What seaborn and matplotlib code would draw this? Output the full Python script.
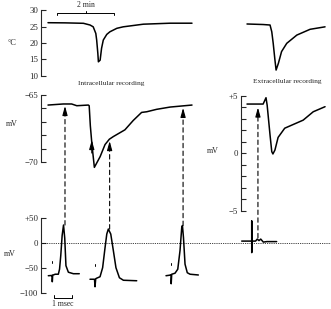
import numpy as np
import pandas as pd
import matplotlib
matplotlib.use("Agg")
import matplotlib.pyplot as plt
import seaborn as sns
from matplotlib.patches import ConnectionPatch
from matplotlib.transforms import blended_transform_factory

# ---------------- data ----------------
# Temperature, intracellular run (time in min, deg C)
temp_in_t = [0.0, 0.6, 1.23, 1.46, 1.57, 1.66, 1.69, 1.73, 1.75, 1.81, 1.86, 1.92,
             2.04, 2.15, 2.39, 2.61, 3.31, 4.24, 5.0]
temp_in_v = [26.15, 26.1, 25.97, 25.45, 24.9, 22.9, 20.9, 16.9, 14.3, 14.8, 18.4, 20.9,
             22.6, 23.4, 24.45, 24.9, 25.7, 26.0, 26.0]

# Temperature, extracellular run
temp_ex_t = [0.0, 0.56, 0.80, 0.86, 0.91, 0.97, 1.01, 1.09, 1.2, 1.38, 1.73, 2.19, 2.71]
temp_ex_v = [25.76, 25.6, 25.45, 23.4, 19.9, 14.85, 11.8, 13.85, 17.4, 19.9, 22.4, 24.15, 24.9]

# Membrane potential, intracellular (mV)
vm_in_t = [0.0, 0.53, 0.82, 1.0, 1.4, 1.43, 1.47, 1.53, 1.61, 1.81, 1.98, 2.13, 2.27,
           2.67, 2.96, 3.25, 3.43, 3.77, 4.24, 5.0]
vm_in_v = [-65.75, -65.67, -65.67, -65.8, -65.75, -65.8, -67.3, -68.8, -70.4, -69.6,
           -68.7, -68.3, -68.1, -67.6, -66.9, -66.3, -66.25, -66.07, -65.9, -65.75]

# Extracellular potential (mV)
vm_ex_t = [0.0, 0.56, 0.66, 0.70, 0.80, 0.86, 0.90, 0.97, 1.08, 1.31, 1.95, 2.3, 2.71]
vm_ex_v = [4.3, 4.3, 4.85, 4.2, 1.6, 0.16, -0.04, 0.3, 1.4, 2.2, 2.9, 3.63, 4.07]

# Action potentials (ms from sweep start, mV)
spike1_t = [0, 0.2, 0.23, 0.23, 0.25, 0.4, 0.58, 0.65, 0.72, 0.8, 0.88, 0.95, 1.02, 1.16, 1.45, 1.79]
spike1_v = [-65, -64.5, -64.5, -77, -64, -62, -62, -52, -25, 15, 36, 10, -45, -58, -61, -61]
spike2_t = [0, 0.26, 0.29, 0.33, 0.38, 0.58, 0.73, 0.87, 0.97, 1.06, 1.2, 1.35, 1.5, 1.7, 1.93, 2.7]
spike2_v = [-72, -72, -87, -71, -70, -67, -49, -9, 18, 28, 18, -15, -49, -69, -74, -75]
spike3_t = [0, 0.2, 0.3, 0.3, 0.33, 0.52, 0.68, 0.81, 0.91, 0.95, 1.01, 1.1, 1.23, 1.39, 1.87]
spike3_v = [-65, -64, -63, -81, -62, -60, -52, -15, 31, 35, 11, -42, -59, -62, -63.5]
extra_t = [0, 0.58, 0.58, 0.58, 0.6, 0.8, 0.9, 1.0, 1.1, 1.25, 1.45, 2.02]
extra_v = [4, 4, 44, -19, 4, 4, 8, 5, 8, 2, 3, 3]
stim_mark_t = [0.2, 0.29, 0.3]         # small artifact marks above sweeps 1-3
stim_mark_v = [-35, -41, -39]

# sample moments (min) on the slow traces where spikes were recorded
sample_in_t = [0.59, 2.14, 4.69]
sample_ex_t = [0.38]
spike_peaks = [36, 28, 35]
extra_tail = 10.5

temp_ticks = [10, 15, 20, 25, 30]
in_ticks = [-70, -69, -68, -67, -66, -65]
in_labels = ["\u221270", "", "", "", "", "\u221265"]
ex_ticks = list(range(-5, 6))
ex_labels = ["\u22125"] + [""] * 4 + ["0"] + [""] * 4 + ["+5"]
ap_ticks = [-100, -50, 0, 50]
ap_labels = ["\u2212100", "\u221250", "0", "+50"]

# ---------------- layout ----------------
sns.set_style("white")
plt.rcParams["font.family"] = ["Liberation Serif", "DejaVu Serif"]
W, H = 331, 309
fig = plt.figure(figsize=(W / 100, H / 100), dpi=100)
fig.patch.set_facecolor("white")

PXMIN = 28.8   # px per minute
PXMS = 17.3    # px per ms
sweep_start_px = [48.3, 90, 166, 241.7]
sweep_off = [(p - 48) / PXMS for p in sweep_start_px]


def px_axes(x0, y0, x1, y1):
    ax = fig.add_axes([x0 / W, 1 - y1 / H, (x1 - x0) / W, (y1 - y0) / H])
    ax.patch.set_visible(False)
    for s in ax.spines.values():
        s.set_visible(False)
    ax.set_xticks([])
    return ax


LW = 1.1
TICKFS = 6.3


def trace(ax, t, v, **kw):
    df = pd.DataFrame({"t": t, "v": v})
    sns.lineplot(data=df, x="t", y="v", ax=ax, color="k", lw=LW,
                 estimator=None, sort=False, **kw)
    ax.set_xlabel("")
    ax.set_ylabel("")
    for ln in ax.lines:
        ln.set_clip_on(False)


def left_axis(ax, ticks, labels, lo, hi):
    ax.spines["left"].set_visible(True)
    ax.spines["left"].set_bounds(lo, hi)
    ax.spines["left"].set_linewidth(0.8)
    ax.set_yticks(ticks)
    ax.set_yticklabels(labels)
    ax.tick_params(axis="y", direction="in", length=3.5, width=0.8, pad=2,
                   labelsize=TICKFS, left=True)


# A: temperature intracellular
axA = px_axes(41, 10, 192, 76)
trace(axA, temp_in_t, temp_in_v)
axA.set_ylim(10, 30)
axA.set_xlim((41 - 48) / PXMIN, (192 - 48) / PXMIN)
left_axis(axA, temp_ticks, [str(t) for t in temp_ticks], 10, 30)
# 2 min scale bar
t0 = (56.7 - 48) / PXMIN
axA.plot([t0, t0, t0 + 2, t0 + 2], [28.5, 29.0, 29.0, 28.5], color="k", lw=0.7, clip_on=False)
axA.plot([t0 + 1, t0 + 1], [29.0, 29.6], color="k", lw=0.7, clip_on=False)
axA.text(t0 + 1, 30.3, "2 min", ha="center", va="bottom", fontsize=5.5)

# B: temperature extracellular
axB = px_axes(241, 10, 331, 76)
trace(axB, temp_ex_t, temp_ex_v)
axB.set_ylim(10, 30)
axB.set_xlim((241 - 247) / PXMIN, (331 - 247) / PXMIN)
axB.set_yticks([])

# C: intracellular membrane potential
axC = px_axes(41, 90, 192, 170)
trace(axC, vm_in_t, vm_in_v)
axC.set_ylim(-70 - 8 / 13.4, -65 + 5 / 13.4)
axC.set_xlim((41 - 48) / PXMIN, (192 - 48) / PXMIN)
left_axis(axC, in_ticks, in_labels, -70, -65)

# D: extracellular potential
axD = px_axes(241, 90, 331, 215)
trace(axD, vm_ex_t, vm_ex_v)
axD.set_ylim(-5 - 4 / 11.5, 5 + 6 / 11.5)
axD.set_xlim((241 - 247) / PXMIN, (331 - 247) / PXMIN)
left_axis(axD, ex_ticks, ex_labels, -5, 5)

# E: action potentials
axE = px_axes(41, 205, 331, 300)
rows = []
for i, (t, v) in enumerate([(spike1_t, spike1_v), (spike2_t, spike2_v),
                            (spike3_t, spike3_v), (extra_t, extra_v)]):
    for tt, vv in zip(t, v):
        rows.append({"t": tt + sweep_off[i], "v": vv, "sweep": i})
spk = pd.DataFrame(rows)
sns.lineplot(data=spk, x="t", y="v", units="sweep", ax=axE, color="k", lw=LW,
             estimator=None, sort=False)
axE.set_xlabel("")
axE.set_ylabel("")
for i, (mt, mv) in enumerate(zip(stim_mark_t, stim_mark_v)):
    axE.plot([mt + sweep_off[i]] * 2, [mv, mv - 4], color="k", lw=0.7)
axE.set_ylim(-100 - 6.7 / 0.502, 50 + 13 / 0.502)
axE.set_xlim((41 - 48) / PXMS, (331 - 48) / PXMS)
left_axis(axE, ap_ticks, ap_labels, -100, 50)
axE.axhline(0, color="k", lw=0.6, ls=(0, (1, 1.2)))
for ln in axE.lines:
    ln.set_clip_on(False)
# 1 msec scale bar
b0 = (54.3 - 48) / PXMS
axE.plot([b0, b0, b0 + 1, b0 + 1], [-104, -110, -110, -104], color="k", lw=0.7, clip_on=False)
axE.text(b0 + 0.5, -114, "1 msec", ha="center", va="top", fontsize=5.5)

# dashed connectors with arrow heads
DASH = (0, (4, 3))


def connector(ax_top, t_top, v_head, x_tail_ax, v_tail, head_len):
    trans = blended_transform_factory(ax_top.transData, axE.transData)
    cp = ConnectionPatch(xyA=(t_top, v_tail), coordsA=trans,
                         xyB=(t_top, v_head - head_len), coordsB=ax_top.transData,
                         color="k", lw=0.8, linestyle=DASH)
    fig.add_artist(cp)
    ax_top.annotate("", xy=(t_top, v_head), xytext=(t_top, v_head - head_len),
                    arrowprops=dict(arrowstyle="-|>,head_length=0.9,head_width=0.25",
                                    color="k", lw=0.8, shrinkA=0, shrinkB=0,
                                    mutation_scale=6), annotation_clip=False)


for ts, pk in zip(sample_in_t, spike_peaks):
    vh = float(np.interp(ts, vm_in_t, vm_in_v)) - 0.15
    connector(axC, ts, vh, None, pk, 0.6)
for ts in sample_ex_t:
    vh = float(np.interp(ts, vm_ex_t, vm_ex_v)) - 0.3
    connector(axD, ts, vh, None, extra_tail, 0.7)

# small arrow at the onset of the cold response
axC.annotate("", xy=(1.52, -68.36), xytext=(1.52, -69.33),
             arrowprops=dict(arrowstyle="-|>,head_length=0.9,head_width=0.25",
                             color="k", lw=0.8, shrinkA=0, shrinkB=0, mutation_scale=6),
             annotation_clip=False)

# labels
def ftext(x, y, s, fs, **kw):
    fig.text(x / W, 1 - y / H, s, fontsize=fs, ha="center", va="center", **kw)


ftext(12, 43, "\u00b0C", 6)
ftext(12, 124, "mV", 5.8)
ftext(213, 151, "mV", 5.8)
ftext(10, 254, "mV", 5.8)
ftext(111, 83.5, "Intracellular recording", 5.3)
ftext(287, 82, "Extracellular recording", 5.3)

fig.savefig("out.png", dpi=100, facecolor="white")
